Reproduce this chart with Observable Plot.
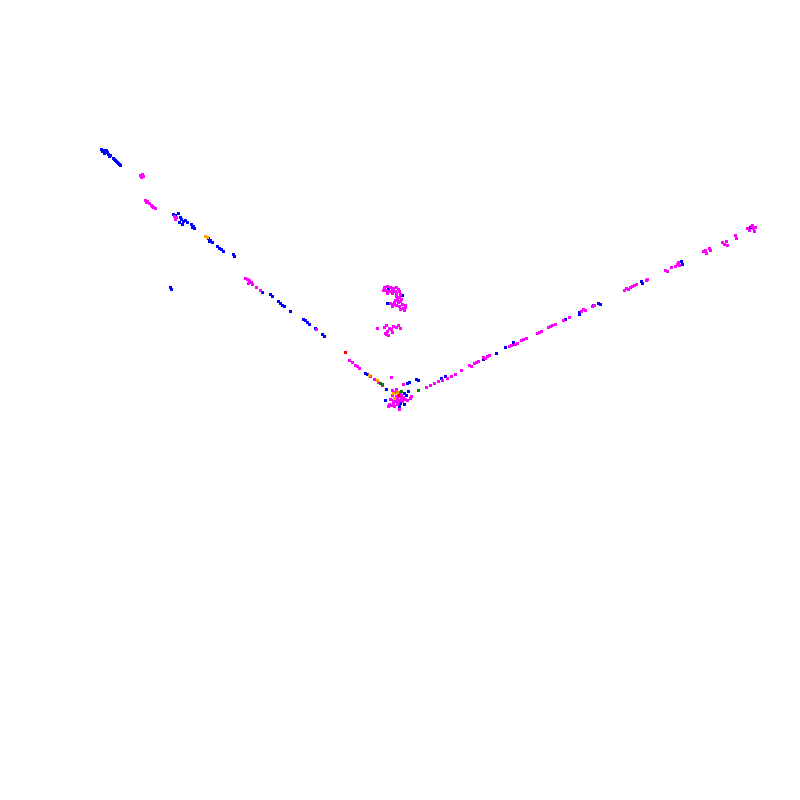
<!DOCTYPE html>
<html>
<head>
<meta charset="utf-8">
<script src="https://cdn.jsdelivr.net/npm/d3@7"></script>
<script src="https://cdn.jsdelivr.net/npm/@observablehq/plot@0.6"></script>
<style>
html,body{margin:0;padding:0;background:#fff;}
#chart{width:800px;height:800px;}
</style>
</head>
<body>
<div id="chart"></div>
<script>
// Categories and their colours
const categories = ["blue", "magenta", "orange", "green", "red"];
const categoryColors = ["#0000ff", "#ff00ff", "#ffaa00", "#80ff00", "#ff3300"];

// Point positions per category (y grows downward)
const bluePoints = [
  [101,149],[103,150],[105,152],[102,151],[104,153],[107,152],[108,154],[110,155],[106,150],[109,156],
  [113,158],[115,160],[114,159],[116,161],[118,163],[119,164],[120,165],[117,162],
  [173,214],[175,215],[178,213],[180,217],[181,219],[183,221],[185,220],[187,222],[179,222],[182,224],
  [191,224],[193,226],[194,228],[192,227],
  [208,238],[210,240],[212,242],[209,241],[217,246],[219,248],[221,249],[223,251],[233,254],[234,256],
  [170,287],[171,289],
  [262,292],[270,294],[272,296],[278,301],[280,303],[282,305],[284,306],[290,311],[303,319],[305,320],
  [307,322],[309,324],[315,328],[322,334],[324,336],
  [365,373],[367,374],[386,389],[407,383],[409,382],[416,379],[418,380],
  [396,392],[398,394],[404,393],[406,395],[408,391],[402,398],[400,403],[399,406],[404,404],[385,400],
  [388,288],[402,295],[387,303],
  [441,378],[445,376],[483,359],[496,353],[505,347],[513,342],[513,344],[565,319],[579,312],[579,314],
  [593,305],[598,303],[600,304],[641,281],[642,283],[681,261],[682,264],[750,227]
];
const magentaPoints = [
  [140,175],[142,174],[143,176],[141,177],
  [145,200],[147,201],[149,203],[151,205],[153,207],[146,202],[152,206],[155,208],
  [174,216],[176,217],[175,219],
  [245,278],[247,279],[249,280],[251,282],[248,283],[252,284],[256,287],[260,290],[316,329],
  [349,360],[352,362],[355,365],[357,366],[359,368],[370,376],[374,379],[378,382],[382,385],[391,377],[403,384],
  [392,390],[394,392],[396,389],[398,396],[400,392],[401,395],[403,397],[397,399],[395,401],[393,403],
  [391,405],[389,404],[394,406],[398,402],[400,400],[402,401],[405,399],[407,400],[410,398],[411,396],
  [396,396],[399,409],[392,395],[390,399],[395,398],[397,404],[401,398],[393,400],[388,406],
  [426,387],[430,385],[434,383],[438,381],[442,380],[447,378],[451,376],[455,374],[461,370],[469,365],
  [471,366],[474,363],[476,362],[478,361],[483,357],[485,358],[487,356],[489,355],[509,346],[511,345],
  [515,344],[517,343],[521,340],[523,339],[526,338],[537,333],[539,332],[541,331],[548,327],[550,326],
  [552,325],[555,324],[563,320],[569,317],[581,311],[583,309],[585,310],[592,306],[594,305],
  [624,290],[626,288],[628,289],[630,287],[632,286],[634,285],[636,284],[646,280],[647,279],
  [665,270],[667,271],[671,267],[675,266],[677,264],[679,265],[678,262],
  [703,251],[705,250],[706,253],[709,248],[710,250],[722,242],[724,244],[726,241],[727,245],
  [735,235],[736,238],[747,228],[749,230],[751,226],[753,228],[755,227],[752,225],[754,231],
  [384,287],[387,286],[390,287],[393,288],[396,287],[398,289],
  [383,290],[386,290],[389,291],[392,290],[395,291],[399,291],
  [387,293],[392,293],[396,293],[400,294],
  [396,296],[399,297],[401,299],[397,299],[400,301],[398,302],[395,300],
  [390,303],[393,304],[396,305],[399,306],[402,304],[405,305],[405,307],[403,308],[400,309],[394,302],[392,306],[404,310],
  [384,327],[386,325],[389,328],[387,331],[385,333],[391,329],[393,326],[396,327],[398,325],[400,328],
  [392,332],[388,335],[386,334],[377,328]
];
const orangePoints = [[205,236],[207,237],[369,375],[377,380],[394,398],[397,392],[393,393]];
const greenPoints = [[380,383],[382,384],[418,390],[401,391]];
const redPoints = [[345,352],[398,395]];

const data = [];
[[bluePoints,"blue"],[magentaPoints,"magenta"],[orangePoints,"orange"],[greenPoints,"green"],[redPoints,"red"]]
  .forEach(([pts, cat]) => pts.forEach(([x, y]) => data.push({x, y, cat})));

const chart = Plot.plot({
  width: 800,
  height: 800,
  margin: 0,
  x: {domain: [0, 800], axis: null},
  y: {domain: [800, 0], axis: null},
  color: {domain: categories, range: categoryColors},
  marks: [
    Plot.dot(data, {x: "x", y: "y", fill: "cat", symbol: "square", r: 1.8, stroke: "none", shapeRendering: "crispEdges"})
  ]
});
document.getElementById("chart").appendChild(chart);
</script>
</body>
</html>
